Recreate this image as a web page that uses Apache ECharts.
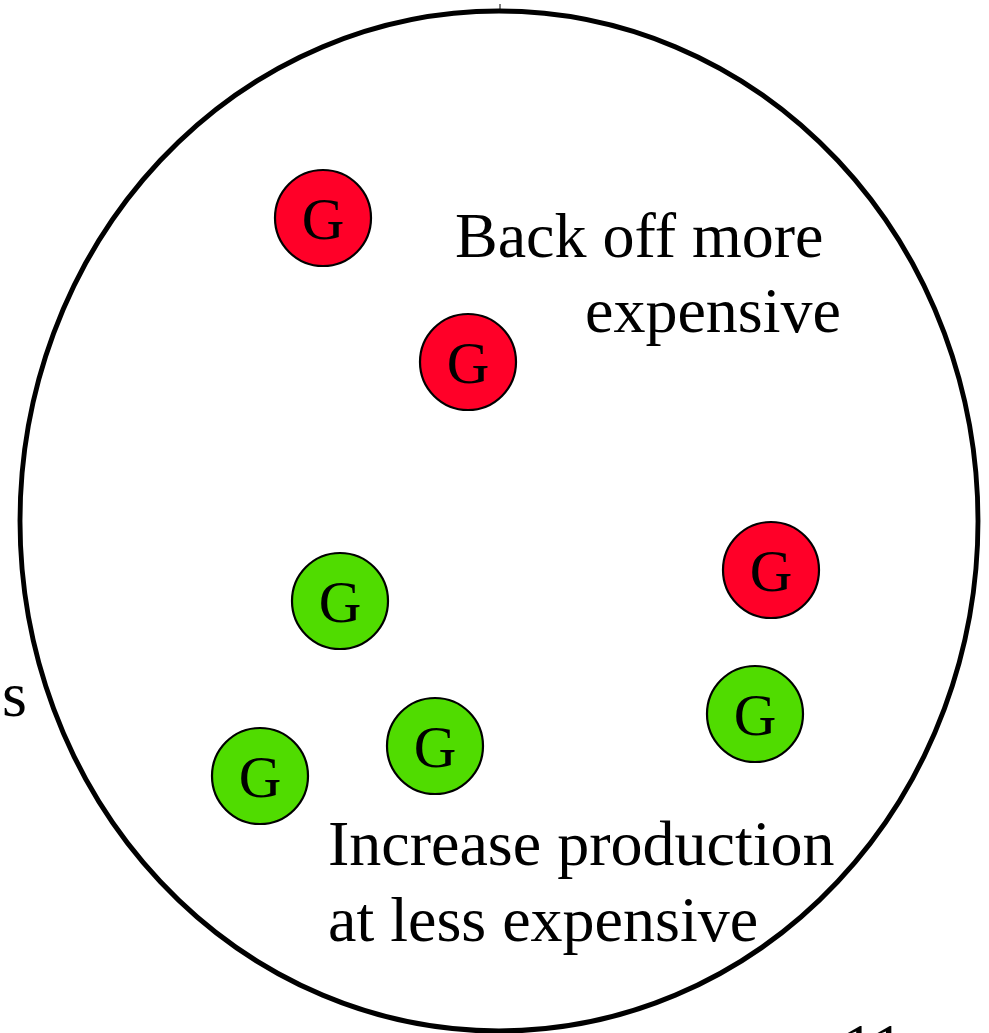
<!DOCTYPE html>
<html>
<head>
<meta charset="utf-8">
<script src="https://cdn.jsdelivr.net/npm/echarts@6/dist/echarts.min.js"></script>
<style>html,body{margin:0;padding:0;background:#fff;}#c{width:989px;height:1033px;}</style>
</head>
<body>
<div id="c"></div>
<script>
// Generator positions (x, y in picture units)
var redX = [323, 468, 771];
var redY = [218, 362, 570];
var greenX = [340, 435, 260, 755];
var greenY = [601, 746, 776, 714];
var nodeLabel = 'G';
var regionCenter = [499, 521];
var textLines = ['Back off more', 'expensive', 'Increase production', 'at less expensive'];
var sideLabel = 's';
var pageNumber = '11';

var chart = echarts.init(document.getElementById('c'));
function pts(xs, ys) { return xs.map(function (x, i) { return [x, ys[i]]; }); }
var serif = '"Liberation Serif", "Times New Roman", serif';
var nodeStyle = function (color) {
  return {
    type: 'scatter', symbol: 'circle', symbolSize: 96,
    itemStyle: { color: color, borderColor: '#000', borderWidth: 2.2, opacity: 1 },
    label: { show: true, position: 'inside', formatter: nodeLabel, color: '#000',
      fontFamily: serif, fontSize: 59, offset: [0, 5] },
    emphasis: { disabled: true }, silent: true, z: 3
  };
};
var red = nodeStyle('#FF0028'); red.data = pts(redX, redY);
var green = nodeStyle('#50DC00'); green.data = pts(greenX, greenY);

chart.setOption({
  animation: false,
  grid: { left: 0, right: 0, top: 0, bottom: 0 },
  xAxis: { type: 'value', min: 0, max: 989, show: false },
  yAxis: { type: 'value', min: 0, max: 1033, inverse: true, show: false },
  series: [
    { type: 'scatter', symbol: 'circle', symbolSize: [958, 1020], data: [regionCenter],
      itemStyle: { color: 'rgba(0,0,0,0)', borderColor: '#000', borderWidth: 5, opacity: 1 },
      emphasis: { disabled: true }, silent: true, z: 1 },
    red, green
  ],
  graphic: [
    { type: 'line', shape: { x1: 500, y1: 4, x2: 500, y2: 12 }, style: { stroke: '#000', lineWidth: 1 } },
    { type: 'text', style: { x: 455, y: 240, text: textLines[0], font: '64px ' + serif, fill: '#000', verticalAlign: 'middle' } },
    { type: 'text', style: { x: 585, y: 315, text: textLines[1], font: '64px ' + serif, fill: '#000', verticalAlign: 'middle' } },
    { type: 'text', style: { x: 328, y: 848, text: textLines[2], font: '64px ' + serif, fill: '#000', verticalAlign: 'middle' } },
    { type: 'text', style: { x: 328, y: 924, text: textLines[3], font: '64px ' + serif, fill: '#000', verticalAlign: 'middle' } },
    { type: 'text', style: { x: 2, y: 699, text: sideLabel, font: '64px ' + serif, fill: '#000', verticalAlign: 'middle' } },
    { type: 'text', style: { x: 842, y: 1051, text: pageNumber, font: '64px ' + serif, fill: '#000', verticalAlign: 'middle' } }
  ]
});
</script>
</body>
</html>
